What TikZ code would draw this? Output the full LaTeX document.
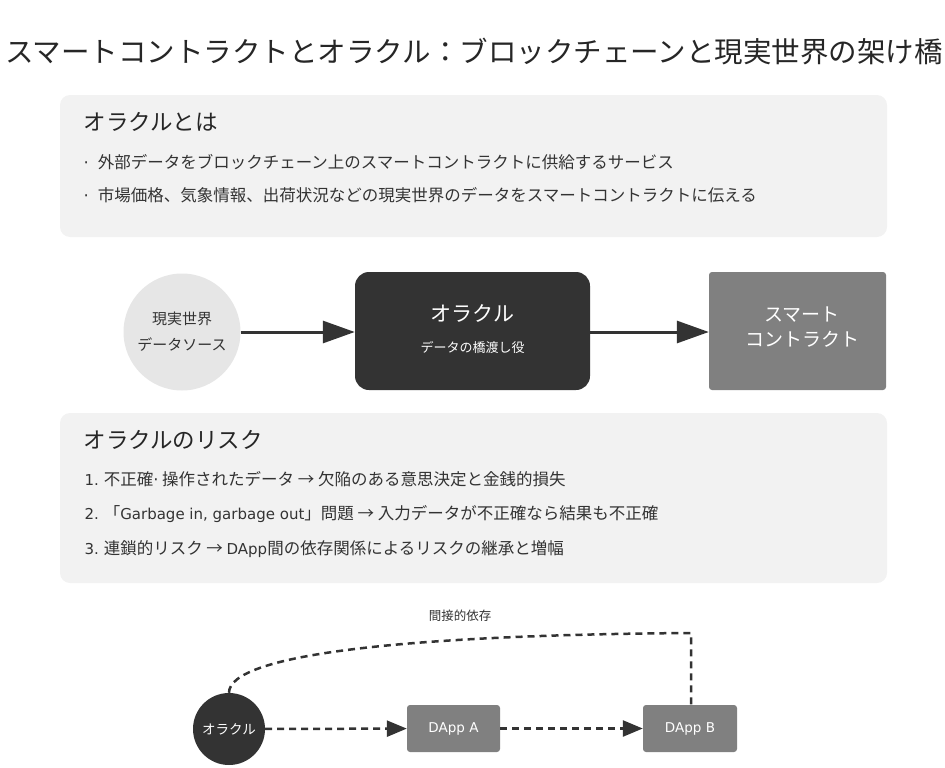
\documentclass[tikz,border=0pt]{standalone}
\usepackage{fontspec}
\setmainfont{Noto Sans CJK JP}
\newfontfamily\lat{DejaVu Sans}
\usetikzlibrary{arrows.meta}
\definecolor{boxbg}{HTML}{F2F2F2}
\definecolor{lightc}{HTML}{E6E6E6}
\definecolor{darkc}{HTML}{333333}
\definecolor{grayc}{HTML}{808080}
\definecolor{txt}{HTML}{333333}
\tikzset{
  panel/.style={fill=boxbg, draw=none, rounded corners=10pt},
  heading/.style={anchor=west, font=\fontsize{22.5}{26}\selectfont, text=black!85},
  item/.style={anchor=west, font=\fontsize{16.5}{20}\selectfont, text=txt},
  bigarrow/.style={draw=darkc, line width=3pt, -{Triangle[length=32pt,width=22pt]}, fill=darkc},
  dasharrow/.style={draw=darkc, line width=2.5pt, dash pattern=on 7pt off 5pt, -{Triangle[length=20pt,width=16pt]}},
  dashline/.style={draw=darkc, line width=2.5pt, dash pattern=on 7pt off 5pt},
  graybox/.style={fill=grayc, draw=none, rounded corners=3pt, text=white},
}
\begin{document}
\begin{tikzpicture}[x=1pt,y=-1pt]
\useasboundingbox (0,0) rectangle (945,768);
% title
\node[font=\fontsize{28.5}{32}\selectfont, text=black!85] (title) at (474,52) {スマートコントラクトとオラクル：ブロックチェーンと現実世界の架け橋};
% panel 1
\path[panel] (60,95) rectangle (887,237);
\node[heading] (h1) at (80,122) {オラクルとは};
\node[item] (b1) at (80,162) {{\lat ·}\hspace{9pt}外部データをブロックチェーン上のスマートコントラクトに供給するサービス};
\node[item] (b2) at (80,195) {{\lat ·}\hspace{9pt}市場価格、気象情報、出荷状況などの現実世界のデータをスマートコントラクトに伝える};
% middle row
\node[circle, fill=lightc, minimum size=117pt, inner sep=0pt, align=center, font=\fontsize{15}{26}\selectfont, text=txt] (src) at (182,332) {現実世界\\データソース};
\node[fill=darkc, rounded corners=14pt, minimum width=235pt, minimum height=118pt, inner sep=0pt] (orc) at (472.5,331) {};
\node[text=white, font=\fontsize{21}{24}\selectfont] (orct) at (472.5,313) {オラクル};
\node[text=white, font=\fontsize{13}{16}\selectfont] (orcs) at (472.5,347) {データの橋渡し役};
\node[graybox, minimum width=177pt, minimum height=118pt, inner sep=0pt] (sc) at (797.5,331) {};
\node[text=white, align=center, font=\fontsize{19}{25}\selectfont] (sct) at (802,327) {スマート\\コントラクト};
\draw[bigarrow] (src) -- (orc.west |- src.east);
\draw[bigarrow] (orc.east |- src.east) -- (sc.west |- src.east);
% panel 2
\path[panel] (60,413) rectangle (887,583);
\node[heading] (h2) at (80,440) {オラクルのリスク};
\node[item] (r1) at (81,479) {{\lat\fontsize{15}{20}\selectfont 1.} 不正確{\lat ·} 操作されたデータ → 欠陥のある意思決定と金銭的損失};
\node[item] (r2) at (81,514) {{\lat\fontsize{15}{20}\selectfont 2.} 「{\lat\fontsize{15}{20}\selectfont Garbage in, garbage out}」問題 → 入力データが不正確なら結果も不正確};
\node[item] (r3) at (81,549) {{\lat\fontsize{15}{20}\selectfont 3.} 連鎖的リスク → {\lat\fontsize{15}{20}\selectfont DApp}間の依存関係によるリスクの継承と増幅};
% bottom
\node[circle, fill=darkc, minimum size=72pt, inner sep=0pt, text=white, font=\fontsize{13.5}{16}\selectfont] (bor) at (229,729) {オラクル};
\node[graybox, minimum width=93pt, minimum height=47pt, inner sep=0pt, font=\lat\fontsize{13.5}{16}\selectfont] (da) at (453.5,728.5) {DApp A};
\node[graybox, minimum width=94pt, minimum height=47pt, inner sep=0pt, font=\lat\fontsize{13.5}{16}\selectfont] (db) at (690,728.5) {DApp B};
\draw[dasharrow] (bor) -- (da);
\draw[dasharrow] (da) -- (db);
\coordinate (corner) at (691,633);
\draw[dashline] (bor.north) .. controls (229,655) and (400,635) .. (corner) -- (db.north -| corner);
\node[font=\fontsize{12.5}{15}\selectfont, text=txt] (lbl) at (460,616) {間接的依存};
\end{tikzpicture}
\end{document}
